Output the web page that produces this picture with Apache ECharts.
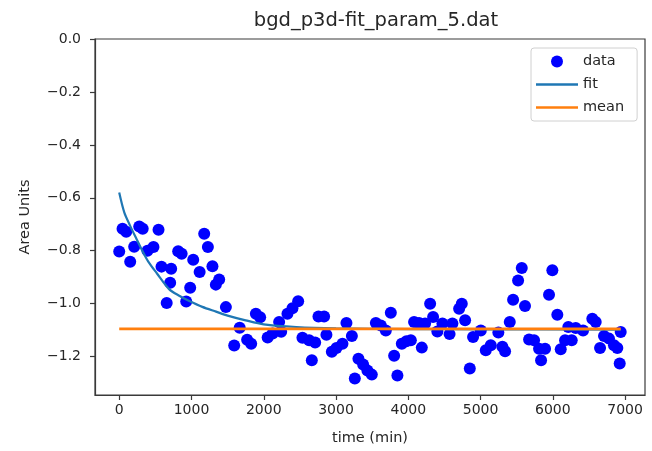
<!DOCTYPE html>
<html>
<head>
<meta charset="utf-8">
<script src="https://cdn.jsdelivr.net/npm/echarts@6/dist/echarts.min.js"></script>
<style>
html,body{margin:0;padding:0;background:#fff;}
#chart{width:652px;height:451px;}
</style>
</head>
<body>
<div id="chart"></div>
<script>
// ---- data ----
const titleText = 'bgd_p3d-fit_param_5.dat';
const xAxisName = 'time (min)';
const yAxisName = 'Area Units';
const legendNames = ['data', 'fit', 'mean'];

const dataTime = [0, 46, 97, 152, 207, 277, 325, 391, 474, 544, 585, 657, 705, 719, 816, 864, 927, 982, 1024, 1113,
  1176, 1227, 1290, 1337, 1383, 1476, 1591, 1667, 1770, 1826, 1891, 1950, 2054, 2123, 2213, 2241, 2328, 2397, 2476, 2535,
  2628, 2711, 2665, 2757, 2835, 2867, 2942, 3006, 3089, 3144, 3219, 3260, 3310, 3375, 3434, 3495, 3551, 3620, 3689, 3758,
  3804, 3849, 3910, 3974, 4035, 4080, 4149, 4187, 4232, 4302, 4343, 4402, 4472, 4571, 4610, 4703, 4740, 4786, 4851, 4896,
  5003, 5072, 5141, 5246, 5302, 5339, 5404, 5450, 5519, 5570, 5615, 5671, 5740, 5809, 5837, 5892, 5947, 5993, 6062, 6109,
  6169, 6214, 6261, 6317, 6418, 6546, 6593, 6653, 6708, 6777, 6846, 6892, 6925, 6939];
const dataArea = [-0.803, -0.717, -0.728, -0.842, -0.785, -0.708, -0.717, -0.800, -0.786, -0.721, -0.860, -0.997, -0.921, -0.868, -0.802, -0.811, -0.992, -0.940, -0.834, -0.880,
  -0.736, -0.786, -0.859, -0.928, -0.909, -1.013, -1.158, -1.091, -1.136, -1.151, -1.038, -1.051, -1.128, -1.113, -1.069, -1.106, -1.038, -1.017, -0.991, -1.129,
  -1.138, -1.147, -1.214, -1.048, -1.048, -1.117, -1.182, -1.167, -1.151, -1.073, -1.122, -1.283, -1.208, -1.230, -1.252, -1.268, -1.073, -1.082, -1.101, -1.034,
  -1.197, -1.271, -1.151, -1.142, -1.138, -1.069, -1.073, -1.166, -1.075, -1.000, -1.050, -1.105, -1.075, -1.115, -1.075, -1.019, -1.000, -1.063, -1.245, -1.126,
  -1.101, -1.176, -1.157, -1.109, -1.163, -1.180, -1.069, -0.985, -0.912, -0.865, -1.009, -1.135, -1.138, -1.170, -1.214, -1.170, -0.966, -0.874, -1.042, -1.172,
  -1.138, -1.088, -1.138, -1.092, -1.101, -1.057, -1.069, -1.167, -1.122, -1.132, -1.157, -1.167, -1.226, -1.107];

const fitTime = [0, 70, 150, 230, 320, 400, 520, 690, 830, 970, 1150, 1340, 1500, 1750, 2000, 2450, 3000, 4000, 5000, 6939];
const fitArea = [-0.580, -0.655, -0.705, -0.750, -0.800, -0.840, -0.885, -0.945, -0.970, -0.990, -1.012, -1.030, -1.045, -1.063, -1.078, -1.088, -1.093, -1.096, -1.097, -1.098];

const meanTime = [0, 6939];
const meanArea = [-1.095, -1.095];

const xTicks = [0, 1000, 2000, 3000, 4000, 5000, 6000, 7000];
const yTicks = [0.0, -0.2, -0.4, -0.6, -0.8, -1.0, -1.2];

// ---- chart ----
const zip = (a, b) => a.map((v, i) => [v, b[i]]);
const FONT = 'DejaVu Sans';
const TXT = '#262626';
const AX = '#3a3a3a';
const LINE_ICON = 'path://M0,0L40,0L40,2.2L0,2.2Z';

const chart = echarts.init(document.getElementById('chart'), null, {renderer: 'canvas'});
chart.setOption({
  animation: false,
  backgroundColor: '#ffffff',
  textStyle: {fontFamily: FONT},
  title: {
    text: titleText,
    left: 371,
    top: 6,
    textAlign: 'center',
    textStyle: {fontFamily: FONT, fontSize: 19.5, fontWeight: 'normal', color: TXT}
  },
  grid: {
    left: 95, right: 7, top: 39, bottom: 56,
    show: true, borderColor: AX, borderWidth: 1.2, backgroundColor: '#fff'
  },
  legend: {
    orient: 'vertical',
    left: 531, top: 48,
    padding: [6, 13, 6, 5],
    itemGap: 8,
    itemWidth: 42,
    itemHeight: 12,
    backgroundColor: '#fff',
    borderColor: '#d0d0d0',
    borderWidth: 1,
    borderRadius: 3,
    data: [
      {name: legendNames[0], icon: 'circle'},
      {name: legendNames[1], icon: LINE_ICON},
      {name: legendNames[2], icon: LINE_ICON}
    ],
    textStyle: {fontFamily: FONT, fontSize: 14.5, color: TXT}
  },
  xAxis: {
    type: 'value',
    min: -335, max: 7275,
    name: xAxisName,
    nameLocation: 'middle',
    nameGap: 36,
    nameTextStyle: {fontFamily: FONT, fontSize: 14.5, color: TXT},
    axisLine: {show: true, onZero: false, lineStyle: {color: AX, width: 1.2}},
    axisTick: {show: true, length: 5, customValues: xTicks, lineStyle: {color: AX, width: 1.2}},
    axisLabel: {customValues: xTicks, fontFamily: FONT, fontSize: 14, color: TXT, margin: 8,
      formatter: v => String(v)},
    splitLine: {show: false}
  },
  yAxis: {
    type: 'value',
    min: -1.345, max: 0.0,
    name: yAxisName,
    nameLocation: 'middle',
    nameGap: 62,
    nameRotate: 90,
    nameTextStyle: {fontFamily: FONT, fontSize: 14.5, color: TXT},
    axisLine: {show: true, onZero: false, lineStyle: {color: AX, width: 1.2}},
    axisTick: {show: true, length: 5, customValues: yTicks, lineStyle: {color: AX, width: 1.2}},
    axisLabel: {customValues: yTicks, fontFamily: FONT, fontSize: 14, color: TXT, margin: 14,
      formatter: v => (v < -1e-9 ? '\u2212' : '') + Math.abs(v).toFixed(1)},
    splitLine: {show: false}
  },
  series: [
    {
      name: 'data', type: 'scatter',
      data: zip(dataTime, dataArea),
      symbol: 'circle', symbolSize: 12,
      itemStyle: {color: '#0000ff', opacity: 1},
      z: 2
    },
    {
      name: 'fit', type: 'line',
      data: zip(fitTime, fitArea),
      symbol: 'none', smooth: 0.3,
      lineStyle: {color: '#1f77b4', width: 2.2},
      itemStyle: {color: '#1f77b4'},
      z: 3
    },
    {
      name: 'mean', type: 'line',
      data: zip(meanTime, meanArea),
      symbol: 'none',
      lineStyle: {color: '#ff7f0e', width: 2.6},
      itemStyle: {color: '#ff7f0e'},
      z: 4
    }
  ]
});
</script>
</body>
</html>
